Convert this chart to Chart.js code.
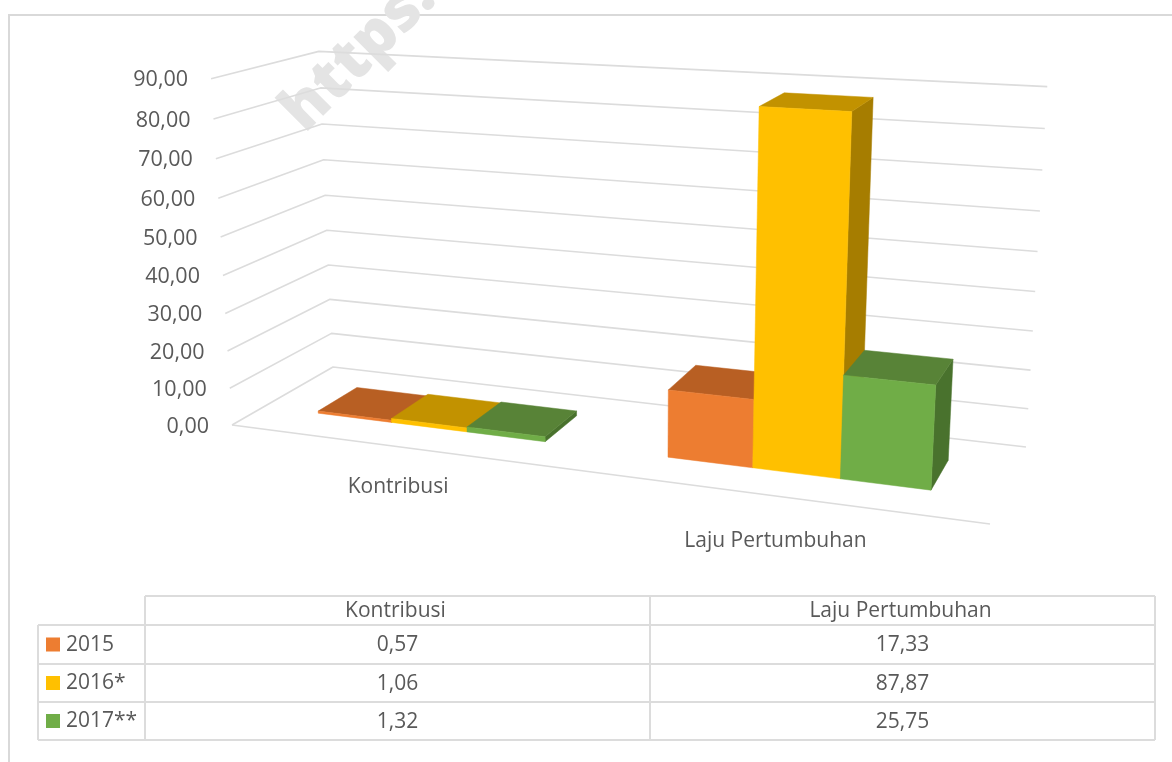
<!DOCTYPE html>
<html>
<head>
<meta charset="utf-8">
<style>html,body{margin:0;padding:0;background:#fff}canvas{display:block}</style>
<script src="https://cdn.jsdelivr.net/npm/chart.js@4/dist/chart.umd.js"></script>
</head>
<body>
<canvas id="c" width="1172" height="762"></canvas>
<script>
const categories = ['Kontribusi', 'Laju Pertumbuhan'];
const seriesNames = ['2015', '2016*', '2017**'];
const values2015 = [0.57, 17.33];
const values2016 = [1.06, 87.87];
const values2017 = [1.32, 25.75];
const yTickLabels = ['0,00','10,00','20,00','30,00','40,00','50,00','60,00','70,00','80,00','90,00'];
const frontColors = ['#ED7D31', '#FFC000', '#70AD47'];
const topColors = ['#B85F23', '#C29200', '#588337'];
const sideColors = ['#A04F1C', '#A67D00', '#49722D'];
const TEXT = '#595959', LINE = '#DCDCDC', FONT = '21px "Open Sans"', TICKFONT = '21.5px "Open Sans"';

// Projection of the plot cube (u along categories, v along values, w along depth) onto the page
const floorC = [[232,425],[990,524],[1026,447],[333,367]];
const topRefs = [[0,1,0,210,78],[0,1,1,320,50],[1,1,1,1047,89]];
const depthFront = 0.3, depthBack = 0.7;

function buildCamera(){
  const [[x0,y0],[x1,y1],[x2,y2],[x3,y3]] = floorC;
  const dx1=x1-x2,dx2=x3-x2,sx=x0-x1+x2-x3,dy1=y1-y2,dy2=y3-y2,sy=y0-y1+y2-y3;
  const den=dx1*dy2-dx2*dy1;
  const g=(sx*dy2-dx2*sy)/den,h=(dx1*sy-sx*dy1)/den;
  const a=x1-x0+g*x1,b=x3-x0+h*x3,c=x0,d=y1-y0+g*y1,e=y3-y0+h*y3,f=y0;
  const rows=[],rhs=[];
  topRefs.forEach(([u,v,w,X,Y])=>{
    const D=g*u+h*w+1;
    rows.push([v,0,-X*v]);rhs.push(X*D-(a*u+b*w+c));
    rows.push([0,v,-Y*v]);rhs.push(Y*D-(d*u+e*w+f));
  });
  const M=[[0,0,0,0],[0,0,0,0],[0,0,0,0]];
  rows.forEach((r,k)=>{for(let i=0;i<3;i++){for(let j=0;j<3;j++)M[i][j]+=r[i]*r[j];M[i][3]+=r[i]*rhs[k];}});
  for(let i=0;i<3;i++){
    let p=i;for(let r=i+1;r<3;r++)if(Math.abs(M[r][i])>Math.abs(M[p][i]))p=r;
    [M[i],M[p]]=[M[p],M[i]];
    for(let r=0;r<3;r++){if(r===i)continue;const t=M[r][i]/M[i][i];for(let j=i;j<4;j++)M[r][j]-=t*M[i][j];}
  }
  const A=M[0][3]/M[0][0],B=M[1][3]/M[1][1],C=M[2][3]/M[2][2];
  return (u,v,w)=>{const D=g*u+C*v+h*w+1;return [(a*u+A*v+b*w+c)/D,(d*u+B*v+e*w+f)/D];};
}
const project = buildCamera();

function poly(ctx,pts,fill){
  ctx.beginPath();pts.forEach((p,i)=>i?ctx.lineTo(p[0],p[1]):ctx.moveTo(p[0],p[1]));ctx.closePath();
  ctx.fillStyle=fill;ctx.fill();ctx.strokeStyle=fill;ctx.lineWidth=0.5;ctx.stroke();
}
function path(ctx,pts){
  ctx.beginPath();pts.forEach((p,i)=>i?ctx.lineTo(p[0],p[1]):ctx.moveTo(p[0],p[1]));ctx.stroke();
}

const table = {
  xs:[38,145,650,1155], ys:[596,625,664,702,740]
};

const scene = {
  id:'scene',
  beforeDatasetsDraw(chart){
    const ctx=chart.ctx, area=chart.chartArea, ys=chart.scales.y;
    const toU=x=>(x-area.left)/(area.right-area.left);
    const toV=y=>(area.bottom-y)/(area.bottom-area.top);
    ctx.save();
    // frame
    ctx.strokeStyle='#D9D9D9';ctx.lineWidth=2;
    path(ctx,[[9,762],[9,15],[1172,15]]);
    // watermark
    ctx.save();ctx.translate(305,134);ctx.rotate(-Math.PI/4);
    ctx.font='800 62px "Open Sans"';ctx.fillStyle='#E4E4E4';ctx.textAlign='left';ctx.textBaseline='alphabetic';
    ctx.fillText('https..',0,0);ctx.restore();
    // grid
    ctx.strokeStyle=LINE;ctx.lineWidth=1.6;ctx.lineJoin='round';
    ys.ticks.forEach(t=>{
      const v=toV(ys.getPixelForValue(t.value));
      path(ctx,[project(0,v,0),project(0,v,1),project(1,v,1)]);
    });
    path(ctx,[project(0,0,0),project(1,0,0)]);
    // value labels
    ctx.font=TICKFONT;ctx.fillStyle=TEXT;ctx.textAlign='right';ctx.textBaseline='middle';
    ys.ticks.forEach(t=>{
      const v=toV(ys.getPixelForValue(t.value));
      const p=project(0,v,0);
      ctx.fillText(t.label,p[0]-23,p[1]+1.5);
    });
    // category labels
    ctx.font=FONT;ctx.textAlign='center';
    const xs=chart.scales.x;
    categories.forEach((cat,i)=>{
      const u=toU(xs.getPixelForValue(i));
      const p=project(u,0,0);
      ctx.fillText(cat,p[0]-2.5,p[1]+40+10*(u-0.25));
    });
    // bars
    chart.data.labels.forEach((_,ci)=>{
      chart.data.datasets.forEach((ds,si)=>{
        const el=chart.getDatasetMeta(si).data[ci];
        const u0=toU(el.x-el.width/2),u1=toU(el.x+el.width/2),v0=toV(el.base),v1=toV(el.y);
        const w0=depthFront,w1=depthBack;
        poly(ctx,[project(u1,v0,w0),project(u1,v0,w1),project(u1,v1,w1),project(u1,v1,w0)],sideColors[si]);
        poly(ctx,[project(u0,v1,w0),project(u1,v1,w0),project(u1,v1,w1),project(u0,v1,w1)],topColors[si]);
        poly(ctx,[project(u0,v0,w0),project(u1,v0,w0),project(u1,v1,w0),project(u0,v1,w0)],frontColors[si]);
      });
    });
    // data table
    const T=table;
    ctx.strokeStyle=LINE;ctx.lineWidth=2;
    T.ys.forEach((y,i)=>path(ctx,[[i?T.xs[0]:T.xs[1],y],[T.xs[3],y]]));
    T.xs.forEach((x,i)=>path(ctx,[[x,i?T.ys[0]:T.ys[1]],[x,T.ys[4]]]));
    ctx.font=FONT;ctx.fillStyle=TEXT;ctx.textBaseline='middle';ctx.textAlign='center';
    categories.forEach((cat,i)=>{
      ctx.fillText(cat,(T.xs[i+1]+T.xs[i+2])/2-2,(T.ys[0]+T.ys[1])/2+1);
    });
    chart.data.datasets.forEach((ds,si)=>{
      const cy=(T.ys[si+1]+T.ys[si+2])/2;
      ctx.fillStyle=frontColors[si];ctx.fillRect(46,cy-7,14,14);
      ctx.fillStyle=TEXT;ctx.textAlign='left';ctx.fillText(ds.label,66,cy+0.5);
      ctx.textAlign='center';
      ds.data.forEach((val,ci)=>{
        ctx.fillText(val.toFixed(2).replace('.',','),(T.xs[ci+1]+T.xs[ci+2])/2,cy+1);
      });
    });
    ctx.restore();
    return false;
  }
};

new Chart(document.getElementById('c'),{
  type:'bar',
  data:{labels:categories,datasets:[
    {label:seriesNames[0],data:values2015,backgroundColor:frontColors[0]},
    {label:seriesNames[1],data:values2016,backgroundColor:frontColors[1]},
    {label:seriesNames[2],data:values2017,backgroundColor:frontColors[2]}
  ]},
  options:{
    responsive:false,animation:false,
    categoryPercentage:0.665,barPercentage:1,
    layout:{padding:0},
    plugins:{legend:{display:false},tooltip:{enabled:false}},
    scales:{
      x:{display:false},
      y:{display:false,min:0,max:90,ticks:{stepSize:10,callback:(v,i)=>yTickLabels[i]}}
    }
  },
  plugins:[scene]
});
</script>
</body>
</html>
